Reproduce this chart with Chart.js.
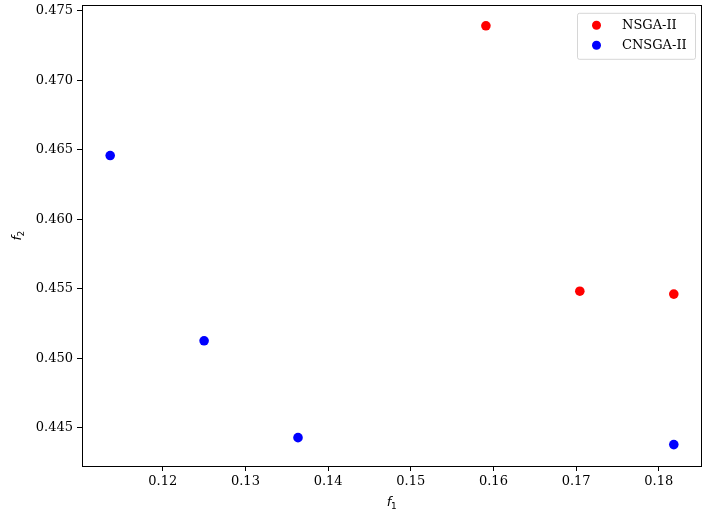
<!DOCTYPE html>
<html>
<head>
<meta charset="utf-8">
<script src="https://cdn.jsdelivr.net/npm/chart.js@4/dist/chart.umd.min.js"></script>
<style>
  html, body { margin: 0; padding: 0; background: #fff; }
  #wrap { width: 712px; height: 523px; }
</style>
</head>
<body>
<div id="wrap"><canvas id="myChart"></canvas></div>
<script>
// values
var seriesNames = ["NSGA-II", "CNSGA-II"];
var nsgaF1 = [0.15909, 0.17045, 0.18182];
var nsgaF2 = [0.47392, 0.45482, 0.45461];
var cnsgaF1 = [0.11364, 0.12500, 0.13636, 0.18182];
var cnsgaF2 = [0.46458, 0.45125, 0.44428, 0.44378];
var xTicks = [0.12, 0.13, 0.14, 0.15, 0.16, 0.17, 0.18];
var yTicks = [0.445, 0.450, 0.455, 0.460, 0.465, 0.470, 0.475];
var axisNames = [["f", "1"], ["f", "2"]];

function toPoints(xs, ys) {
  var pts = [];
  for (var i = 0; i < xs.length; i++) {
    pts.push({x: xs[i], y: ys[i]});
  }
  return pts;
}

var tickFont = {family: "'DejaVu Serif'", size: 13};

// full box around the axes, like matplotlib spines
var frame = {
  id: 'frame',
  afterDatasetsDraw: function(chart) {
    var a = chart.chartArea, c = chart.ctx;
    c.save();
    c.strokeStyle = '#000';
    c.lineWidth = 1;
    c.strokeRect(Math.round(a.left) + 0.5, Math.round(a.top) + 0.5,
                 Math.round(a.right - a.left) - 1, Math.round(a.bottom - a.top));
    c.restore();
  }
};

// axis names with a real subscript (mathtext style)
function drawName(c, name, cx, cy, rot) {
  c.save();
  c.translate(cx, cy);
  c.rotate(rot);
  c.textBaseline = 'alphabetic';
  c.font = "italic 13px 'DejaVu Sans'";
  var w1 = c.measureText(name[0]).width;
  c.font = "9px 'DejaVu Sans'";
  var w2 = c.measureText(name[1]).width;
  var x = -(w1 + w2) / 2;
  c.fillStyle = '#000';
  c.font = "italic 13px 'DejaVu Sans'";
  c.fillText(name[0], x, 4);
  c.font = "9px 'DejaVu Sans'";
  c.fillText(name[1], x + w1 - 0.5, 7);
  c.restore();
}

var axisNamePlugin = {
  id: 'axisNames',
  afterDraw: function(chart) {
    var a = chart.chartArea, c = chart.ctx;
    drawName(c, axisNames[0], (a.left + a.right) / 2, 502, 0);
    drawName(c, axisNames[1], 17, (a.top + a.bottom) / 2, -Math.PI / 2);
  }
};

// legend in the upper right corner, inside the axes
var cornerLegend = {
  id: 'cornerLegend',
  afterDraw: function(chart) {
    var c = chart.ctx;
    var a = chart.chartArea;
    var w = 118, h = 46;
    var x0 = a.right - 7 - w, y0 = a.top + 8;
    c.save();
    c.fillStyle = 'rgba(255,255,255,0.8)';
    c.strokeStyle = 'rgba(204,204,204,0.8)';
    c.lineWidth = 1;
    c.beginPath();
    c.roundRect(x0 + 0.5, y0 + 0.5, w, h, 2);
    c.fill();
    c.stroke();
    c.font = "13px 'DejaVu Serif'";
    c.textBaseline = 'middle';
    chart.data.datasets.forEach(function(ds, i) {
      var cy = y0 + 12.5 + i * 20;
      c.fillStyle = ds.backgroundColor;
      c.beginPath();
      c.arc(x0 + 19.5, cy, 4.5, 0, Math.PI * 2);
      c.fill();
      c.fillStyle = '#000';
      c.fillText(ds.label, x0 + 45, cy);
    });
    c.restore();
  }
};

var ctx = document.getElementById("myChart").getContext('2d');
var myChart = new Chart(ctx, {
  type: 'scatter',
  data: {
    datasets: [{
      label: seriesNames[0],
      data: toPoints(nsgaF1, nsgaF2),
      backgroundColor: 'rgb(255, 0, 0)',
      borderWidth: 0,
      pointRadius: 4.8,
      pointHoverRadius: 4.8
    }, {
      label: seriesNames[1],
      data: toPoints(cnsgaF1, cnsgaF2),
      backgroundColor: 'rgb(0, 0, 255)',
      borderWidth: 0,
      pointRadius: 4.8,
      pointHoverRadius: 4.8
    }]
  },
  options: {
    responsive: true,
    maintainAspectRatio: false,
    animation: false,
    events: [],
    layout: { padding: { top: 4, right: 10, left: 0, bottom: 0 } },
    plugins: {
      legend: { display: false },
      tooltip: { enabled: false }
    },
    scales: {
      x: {
        type: 'linear',
        min: 0.11023,
        max: 0.18523,
        afterBuildTicks: function(scale) {
          scale.ticks = xTicks.map(function(v) { return {value: v}; });
        },
        afterFit: function(scale) {
          scale.height = 57;
          scale.paddingLeft = 0;
          scale.paddingRight = 0;
        },
        grid: { drawOnChartArea: false, drawTicks: true, tickLength: 5, color: '#000', tickWidth: 1 },
        border: { display: false },
        ticks: {
          color: '#000', font: tickFont, padding: 3, maxRotation: 0,
          callback: function(v) { return v.toFixed(2); }
        }
      },
      y: {
        type: 'linear',
        min: 0.44224,
        max: 0.47543,
        afterBuildTicks: function(scale) {
          scale.ticks = yTicks.map(function(v) { return {value: v}; });
        },
        afterFit: function(scale) {
          scale.width = 82;
          scale.paddingTop = 0;
          scale.paddingBottom = 0;
        },
        grid: { drawOnChartArea: false, drawTicks: true, tickLength: 5, color: '#000', tickWidth: 1 },
        border: { display: false },
        ticks: {
          color: '#000', font: tickFont, padding: 4,
          callback: function(v) { return v.toFixed(3); }
        }
      }
    }
  },
  plugins: [frame, axisNamePlugin, cornerLegend]
});
</script>
</body>
</html>
